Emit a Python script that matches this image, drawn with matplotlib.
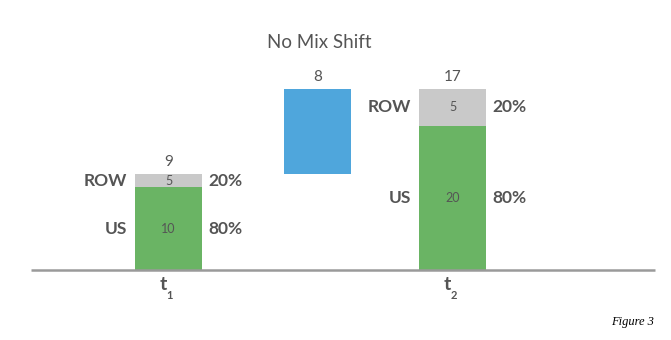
import matplotlib
matplotlib.use("Agg")
import matplotlib.pyplot as plt

# data
periods = ["t", "t"]
period_subs = ["1", "2"]
us_height = [7.75, 13.55]
row_height = [1.25, 3.45]
us_labels = ["10", "20"]
row_labels = ["5", "5"]
total_labels = ["9", "17"]
us_pct = ["80%", "80%"]
row_pct = ["20%", "20%"]
bridge_base = 9
bridge_value = 8

GREEN = "#6ab464"
GREY = "#c9c9c9"
BLUE = "#4fa6dc"
TEXT = "#555555"
FONT = "Lato"

PX = 10.65  # pixels per unit
fig = plt.figure(figsize=(6.71, 3.40), dpi=100)
ax = fig.add_axes([0, 0, 1, 1])
ax.set_xlim(0, 671)
ax.set_ylim(-70 / PX, 270 / PX)
ax.axis("off")

bar_x = [168.5, 452.5]
bridge_x = 317.5
width = 67

for i in range(len(periods)):
    x = bar_x[i]
    ax.bar(x, us_height[i], width, color=GREEN, zorder=2)
    ax.bar(x, row_height[i], width, bottom=us_height[i], color=GREY, zorder=2)
    top = us_height[i] + row_height[i]
    ax.text(x, top + 0.5, total_labels[i], ha="center", va="bottom",
            fontsize=11, color=TEXT, family=FONT)
    ym_us = us_height[i] / 2
    ym_row = us_height[i] + row_height[i] / 2
    ax.text(x, ym_us, us_labels[i], ha="center", va="center",
            fontsize=9, color=TEXT, family=FONT)
    ax.text(x, ym_row, row_labels[i], ha="center", va="center",
            fontsize=9, color=TEXT, family=FONT)
    ax.text(x - width / 2 - 8, ym_us, "US", ha="right", va="center",
            fontsize=12.5, color=TEXT, family=FONT, weight="bold")
    ax.text(x - width / 2 - 8, ym_row, "ROW", ha="right", va="center",
            fontsize=12.5, color=TEXT, family=FONT, weight="bold")
    ax.text(x + width / 2 + 6, ym_us, us_pct[i], ha="left", va="center",
            fontsize=12.5, color=TEXT, family=FONT, weight="bold")
    ax.text(x + width / 2 + 6, ym_row, row_pct[i], ha="left", va="center",
            fontsize=12.5, color=TEXT, family=FONT, weight="bold")
    # period label with subscript
    ax.text(x - 2, -0.55, periods[i], ha="right", va="top",
            fontsize=14, color=TEXT, family=FONT, weight="bold")
    ax.text(x - 2, -1.9, period_subs[i], ha="left", va="top",
            fontsize=8, color=TEXT, family=FONT, weight="bold")

ax.bar(bridge_x, bridge_value, width, bottom=bridge_base, color=BLUE, zorder=2)
ax.text(bridge_x, bridge_base + bridge_value + 0.5, str(bridge_value),
        ha="center", va="bottom", fontsize=11, color=TEXT, family=FONT)

ax.plot([31, 655], [0, 0], color="#9a9a9a", lw=1.8, zorder=3,
        solid_capstyle="butt")

ax.text(319, 270 / PX - 43 / PX, "No Mix Shift", ha="center", va="center",
        fontsize=13.5, color=TEXT, family=FONT)
ax.text(654, -52 / PX, "Figure 3", ha="right", va="center", fontsize=9,
        style="italic", family="Liberation Serif", color="black")

fig.savefig("out.png", dpi=100)
